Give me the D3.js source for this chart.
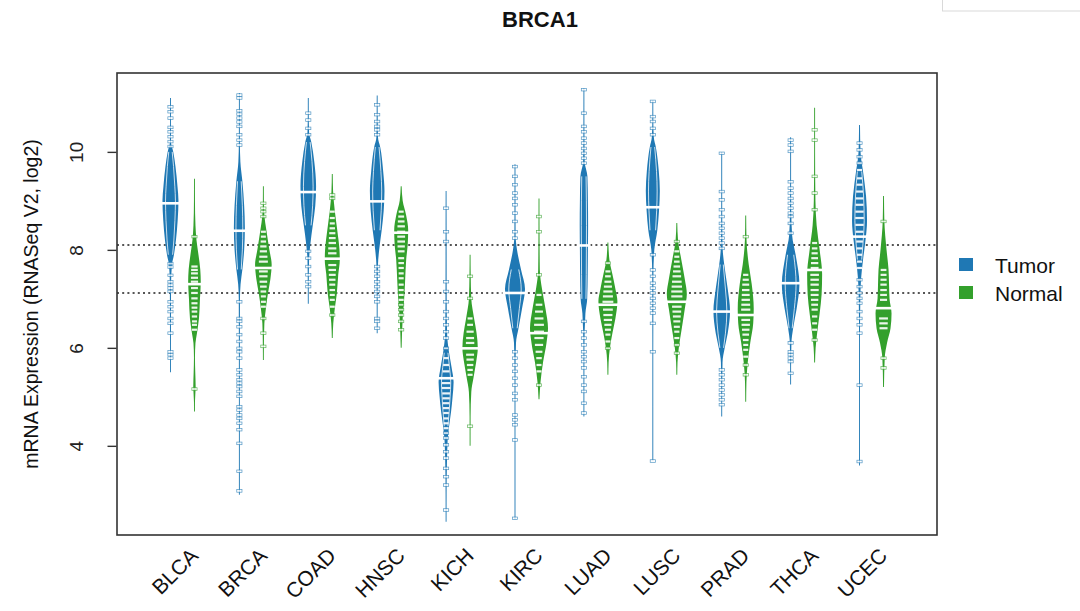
<!DOCTYPE html>
<html>
<head>
<meta charset="utf-8">
<script src="https://cdn.jsdelivr.net/npm/d3@7"></script>
<style>
  html, body { margin: 0; padding: 0; background: #fff; }
  svg { display: block; font-family: "Liberation Sans", Arial, Helvetica, sans-serif; }
</style>
</head>
<body>
<svg id="chart" width="1080" height="611"></svg>
<script>
// ---------------- DATA ----------------
const categories = ["BLCA","BRCA","COAD","HNSC","KICH","KIRC","LUAD","LUSC","PRAD","THCA","UCEC"];
const groups = ["Tumor","Normal"];
const yTicks = [4, 6, 8, 10];
const refLines = [8.1, 7.12];

const tumorMedians  = [8.95, 8.39, 9.18, 8.99, 5.38, 7.12, 8.09, 8.87, 6.74, 7.32, 8.27];
const normalMedians = [7.30, 7.63, 7.82, 8.35, 5.99, 6.30, 6.88, 6.94, 6.67, 7.59, 6.81];

// relative density profiles: [value, relative density]
const tumorDensity = [
  [[11.1,0],[10.9,0.03],[10.2,0.05],[10.0,0.28],[9.7,0.5],[9.3,0.7],[9.0,0.8],[8.6,0.72],[8.2,0.55],[7.9,0.35],[7.7,0.15],[7.3,0.06],[6.5,0.05],[5.8,0.03],[5.5,0]],
  [[11.2,0],[11.0,0.04],[10.2,0.05],[9.8,0.1],[9.4,0.3],[8.9,0.48],[8.45,0.55],[8.0,0.48],[7.6,0.3],[7.3,0.12],[7.0,0.06],[5.0,0.04],[3.0,0]],
  [[11.1,0],[10.8,0.04],[10.4,0.08],[10.2,0.3],[9.8,0.6],[9.3,0.78],[8.9,0.7],[8.5,0.45],[8.1,0.2],[7.8,0.08],[7.3,0.05],[6.9,0]],
  [[11.15,0],[10.8,0.05],[10.3,0.08],[10.1,0.3],[9.6,0.6],[9.2,0.73],[8.8,0.65],[8.4,0.45],[8.0,0.2],[7.7,0.08],[7.0,0.05],[6.3,0]],
  [[9.2,0],[8.5,0.05],[7.0,0.06],[6.3,0.1],[5.9,0.3],[5.6,0.55],[5.3,0.75],[5.0,0.65],[4.7,0.5],[4.4,0.3],[4.1,0.15],[3.6,0.08],[3.0,0.05],[2.45,0]],
  [[9.75,0],[9.0,0.05],[8.3,0.06],[8.0,0.2],[7.6,0.6],[7.2,1.0],[6.8,0.7],[6.4,0.35],[6.1,0.1],[5.5,0.05],[4.1,0.04],[2.5,0]],
  [[11.3,0],[10.5,0.05],[9.8,0.08],[9.5,0.35],[9.0,0.4],[8.5,0.42],[8.0,0.4],[7.5,0.38],[7.0,0.33],[6.7,0.15],[6.0,0.05],[4.6,0]],
  [[11.05,0],[10.6,0.05],[10.3,0.1],[10.1,0.3],[9.6,0.6],[9.2,0.7],[8.8,0.62],[8.4,0.45],[8.0,0.15],[7.5,0.06],[6.5,0.05],[5.9,0.02],[3.7,0]],
  [[10.0,0],[9.2,0.04],[8.4,0.06],[8.0,0.1],[7.7,0.25],[7.2,0.6],[6.75,0.83],[6.3,0.6],[6.0,0.3],[5.7,0.08],[5.0,0.04],[4.6,0]],
  [[10.3,0],[9.5,0.04],[8.8,0.06],[8.3,0.15],[7.9,0.5],[7.3,0.88],[6.8,0.6],[6.4,0.25],[6.1,0.08],[5.6,0.04],[5.25,0]],
  [[10.55,0],[10.0,0.1],[9.6,0.35],[9.1,0.65],[8.6,0.75],[8.2,0.6],[7.8,0.35],[7.4,0.15],[7.0,0.08],[6.2,0.04],[3.6,0]]
];
const normalDensity = [
  [[9.45,0],[9.0,0.05],[8.5,0.1],[8.2,0.2],[7.9,0.4],[7.6,0.58],[7.35,0.63],[7.0,0.55],[6.6,0.45],[6.3,0.25],[6.1,0.1],[5.8,0.05],[5.5,0.08],[5.2,0.12],[4.9,0.05],[4.7,0]],
  [[9.3,0],[9.0,0.05],[8.7,0.1],[8.4,0.3],[8.0,0.6],[7.7,0.83],[7.4,0.7],[7.1,0.45],[6.8,0.25],[6.5,0.1],[6.0,0.05],[5.75,0]],
  [[9.55,0],[9.2,0.08],[8.8,0.25],[8.4,0.5],[8.0,0.72],[7.8,0.75],[7.5,0.6],[7.1,0.45],[6.8,0.25],[6.5,0.1],[6.2,0]],
  [[9.3,0],[9.0,0.15],[8.7,0.5],[8.4,0.7],[8.1,0.65],[7.8,0.5],[7.4,0.4],[7.0,0.3],[6.6,0.15],[6.0,0]],
  [[7.9,0],[7.5,0.06],[7.0,0.12],[6.6,0.4],[6.3,0.65],[6.0,0.77],[5.7,0.6],[5.4,0.35],[5.1,0.12],[4.6,0.05],[4.0,0]],
  [[9.05,0],[8.5,0.05],[7.6,0.08],[7.2,0.3],[6.8,0.65],[6.4,0.9],[6.1,0.75],[5.7,0.4],[5.3,0.15],[4.95,0]],
  [[8.15,0],[7.8,0.15],[7.5,0.45],[7.2,0.75],[6.95,0.95],[6.6,0.75],[6.3,0.45],[6.0,0.2],[5.7,0.07],[5.45,0]],
  [[8.55,0],[8.2,0.12],[7.8,0.45],[7.4,0.8],[7.1,1.0],[6.8,0.8],[6.4,0.5],[6.0,0.2],[5.7,0.07],[5.45,0]],
  [[8.7,0],[8.2,0.08],[7.7,0.3],[7.3,0.6],[6.8,0.8],[6.5,0.75],[6.1,0.45],[5.7,0.2],[5.3,0.07],[4.9,0]],
  [[10.9,0],[10.0,0.04],[9.0,0.08],[8.5,0.2],[8.0,0.5],[7.5,0.75],[7.1,0.7],[6.7,0.5],[6.3,0.25],[6.0,0.1],[5.7,0]],
  [[9.1,0],[8.6,0.08],[8.0,0.3],[7.6,0.5],[7.3,0.55],[7.0,0.6],[6.7,0.8],[6.4,0.7],[6.1,0.35],[5.8,0.12],[5.2,0]]
];

// individual observations visible as bean lines
const tumorPoints = [
  [10.92,10.82,10.69,10.50,10.41,10.31,10.21,10.11,7.72,7.65,7.48,7.35,7.28,7.22,7.15,6.94,6.84,6.74,6.60,6.50,6.30,5.92,5.86,5.79],
  [11.16,11.10,10.84,10.77,10.69,10.61,10.52,10.35,10.24,10.14,6.94,6.60,6.54,6.43,6.27,6.13,5.99,5.92,5.79,5.55,5.45,5.35,5.28,5.21,5.11,5.01,4.80,4.73,4.63,4.56,4.46,4.33,4.05,3.48,3.08],
  [10.79,10.65,10.48,10.35,7.97,7.83,7.66,7.49,7.35,7.25],
  [10.96,10.76,10.62,10.52,10.45,10.35,7.66,7.56,7.46,7.35,7.25,7.15,7.05,6.94,6.60,6.54,6.40],
  [8.85,8.37,8.17,7.35,7.15,6.94,6.74,6.60,6.47,6.33,6.20,5.99,5.79,5.65,5.52,5.28,5.18,5.07,4.97,4.87,4.77,4.67,4.56,4.46,4.36,4.26,4.16,4.02,3.88,3.75,3.54,3.37,3.20,2.69],
  [9.70,9.50,9.33,9.16,9.05,8.92,8.75,8.58,8.37,8.24,5.92,5.79,5.65,5.52,5.38,5.24,5.07,4.94,4.63,4.53,4.43,4.12,2.52],
  [11.27,10.79,10.52,10.41,10.28,10.18,10.07,9.97,9.87,9.77,6.54,6.33,6.20,6.06,5.92,5.82,5.72,5.59,5.41,5.24,5.11,4.87,4.67],
  [11.03,10.72,10.62,10.48,10.35,7.90,7.59,7.46,7.32,7.22,7.12,7.01,6.91,6.81,6.71,6.50,5.92,3.69],
  [9.97,9.19,9.02,8.82,8.68,8.54,8.44,8.34,8.24,8.14,8.03,5.55,5.45,5.35,5.24,5.14,5.04,4.94,4.84],
  [10.24,10.14,10.01,9.39,9.26,9.16,9.05,8.95,8.85,8.75,8.68,8.54,8.34,6.10,5.92,5.86,5.79,5.72,5.48],
  [10.18,10.04,9.90,9.77,9.63,9.46,9.33,9.19,9.05,8.92,8.78,8.65,8.51,8.37,8.17,8.03,7.90,7.76,7.63,7.39,7.25,7.12,7.01,6.91,6.74,6.60,6.47,6.30,5.24,3.68]
];
const normalPoints = [
  [8.27,7.66,7.59,7.52,7.43,7.35,7.22,7.12,7.01,6.91,6.82,6.74,6.64,6.54,6.47,6.37,5.16],
  [8.95,8.85,8.78,8.68,8.37,8.27,8.17,8.07,7.97,7.86,7.76,7.56,7.46,7.35,7.25,7.15,7.05,6.94,6.84,6.60,6.30,6.03],
  [9.12,9.05,8.78,8.65,8.54,8.44,8.34,8.24,8.14,8.03,7.93,7.69,7.59,7.49,7.39,7.29,7.18,7.08,6.98,6.84,6.67],
  [8.78,8.68,8.58,8.48,8.37,8.27,8.17,8.07,7.97,7.83,7.73,7.63,7.52,7.42,7.29,7.18,7.08,6.98,6.88,6.78,6.67,6.54,6.37],
  [7.46,7.01,6.60,6.47,6.33,6.20,6.10,5.86,5.76,5.65,5.55,5.45,4.40],
  [8.68,8.37,7.49,7.08,6.88,6.74,6.60,6.47,6.33,6.20,6.06,5.92,5.79,5.65,5.52,5.24],
  [7.73,7.56,7.46,7.35,7.25,7.15,7.05,6.94,6.78,6.67,6.57,6.47,6.37,6.27,6.13,5.99],
  [8.17,7.97,7.86,7.76,7.66,7.56,7.46,7.35,7.25,7.15,7.05,6.84,6.74,6.64,6.54,6.43,6.33,6.20,6.06,5.89],
  [8.27,7.49,7.39,7.29,7.18,7.08,6.98,6.88,6.78,6.57,6.47,6.37,6.27,6.16,6.06,5.96,5.82,5.65,5.45],
  [10.45,10.24,9.50,9.16,8.82,8.14,8.03,7.93,7.83,7.73,7.63,7.49,7.39,7.29,7.18,7.08,6.98,6.88,6.78,6.64,6.50,6.37,6.16],
  [8.58,7.59,7.49,7.39,7.29,7.18,7.08,6.98,6.60,6.50,6.40,5.79,5.59]
];

// ---------------- DRAWING ----------------
const colors = { Tumor: "#1f78b4", Normal: "#33a02c" };
const svg = d3.select("#chart");
const M = { left: 117, top: 73, right: 937, bottom: 535 };

const y = d3.scaleLinear().domain([2.18, 11.61]).range([M.bottom, M.top]);
const xCat = d3.scalePoint().domain(categories).range([M.left, M.right]).padding(0.95);
const xGrp = d3.scalePoint().domain(groups).range([-12, 12]);
const wScale = d3.scaleLinear().domain([0, 1]).range([0, 10]);

// outer little box at top-right (screenshot artefact)
svg.append("rect").attr("x", 942.5).attr("y", -2).attr("width", 140).attr("height", 13)
  .attr("fill", "none").attr("stroke", "#d9d9d9").attr("stroke-width", 1);

// title
svg.append("text").attr("x", 540).attr("y", 27).attr("text-anchor", "middle")
  .attr("font-size", 22).attr("font-weight", "bold").attr("fill", "#111").text("BRCA1");

// reference dotted lines
svg.selectAll("line.ref").data(refLines).join("line").attr("class", "ref")
  .attr("x1", M.left).attr("x2", M.right)
  .attr("y1", d => y(d)).attr("y2", d => y(d))
  .attr("stroke", "#555").attr("stroke-width", 2).attr("stroke-dasharray", "2,3.2");

function halfWidthAt(dens, v) {
  for (let i = 0; i < dens.length - 1; i++) {
    const a = dens[i], b = dens[i + 1];
    if (v <= a[0] && v >= b[0]) {
      const t = (a[0] - v) / (a[0] - b[0]);
      return wScale(a[1] + t * (b[1] - a[1]));
    }
  }
  return 0;
}

const beans = [];
categories.forEach((c, i) => {
  beans.push({ cat: c, grp: "Tumor", dens: tumorDensity[i], pts: tumorPoints[i], med: tumorMedians[i] });
  beans.push({ cat: c, grp: "Normal", dens: normalDensity[i], pts: normalPoints[i], med: normalMedians[i] });
});

const plot = svg.append("g");
beans.forEach(b => {
  const cx = xCat(b.cat) + xGrp(b.grp);
  const col = colors[b.grp];
  const g = plot.append("g");
  const mkArea = (k, minW) => d3.area()
    .y(d => y(d[0]))
    .x0(d => cx - Math.max(wScale(d[1]) * k, minW))
    .x1(d => cx + Math.max(wScale(d[1]) * k, minW))
    .curve(d3.curveMonotoneY);
  g.append("path").datum(b.dens).attr("d", mkArea(1, 0.45)).attr("fill", col).attr("stroke", "none");

  // inner white contour (dense bean lines), only where the bean is wide enough
  if (b.grp === "Tumor") {
    const core = b.dens.filter(d => d[1] >= 0.25);
    if (core.length > 1) {
      const line = d3.line().curve(d3.curveMonotoneY);
      const left = core.map(d => [cx - wScale(d[1]) * 0.62, y(d[0])]);
      const right = core.map(d => [cx + wScale(d[1]) * 0.62, y(d[0])]);
      g.append("path").attr("d", line(left)).attr("fill", "none").attr("stroke", "#fff")
        .attr("stroke-width", 0.9).attr("opacity", 0.85);
      g.append("path").attr("d", line(right)).attr("fill", "none").attr("stroke", "#fff")
        .attr("stroke-width", 0.9).attr("opacity", 0.85);
    }
  }

  const maxW = d3.max(b.dens, d => wScale(d[1]));
  b.pts.forEach(v => {
    const hw = halfWidthAt(b.dens, v);
    if (hw > 2.6) {
      const w = Math.max(hw * 1.15, 5);
      g.append("rect").attr("x", cx - w / 2).attr("y", y(v) - 1.1)
        .attr("width", w).attr("height", 2.2).attr("fill", "#fff").attr("opacity", 0.9);
    } else {
      g.append("rect").attr("x", cx - 2.6).attr("y", y(v) - 1.3)
        .attr("width", 5.2).attr("height", 2.6).attr("fill", "#fff")
        .attr("stroke", col).attr("stroke-width", 0.7).attr("opacity", 0.75);
    }
  });
  const ml = maxW * 2 + 5;
  g.append("line").attr("x1", cx - ml / 2).attr("x2", cx + ml / 2)
    .attr("y1", y(b.med)).attr("y2", y(b.med))
    .attr("stroke", "#fff").attr("stroke-width", 2.6);
});

// frame
svg.append("rect").attr("x", M.left).attr("y", M.top)
  .attr("width", M.right - M.left).attr("height", M.bottom - M.top)
  .attr("fill", "none").attr("stroke", "#333").attr("stroke-width", 1.6);

// y axis
const yAxis = d3.axisLeft(y).tickValues(yTicks).tickSize(9).tickPadding(6).tickFormat(d3.format("d"));
const ya = svg.append("g").attr("transform", `translate(${M.left - 0.5},0)`).call(yAxis);
ya.select(".domain").remove();
ya.selectAll(".tick line").attr("stroke", "#333").attr("stroke-width", 1.4);
ya.selectAll(".tick text")
  .attr("font-size", 19).attr("fill", "#222")
  .attr("font-family", "Liberation Sans, Arial, sans-serif")
  .attr("text-anchor", "middle")
  .attr("transform", "translate(-40,0) rotate(-90)")
  .attr("x", 0).attr("dy", "0.35em");

// y label
svg.append("text").attr("transform", `translate(38,${(M.top + M.bottom) / 2}) rotate(-90)`)
  .attr("text-anchor", "middle").attr("font-size", 19.5).attr("fill", "#111")
  .text("mRNA Expression (RNASeq V2, log2)");

// x labels
svg.selectAll("text.xl").data(categories).join("text").attr("class", "xl")
  .attr("transform", d => `translate(${xCat(d) + 17},557) rotate(-45)`)
  .attr("text-anchor", "end").attr("font-size", 21).attr("fill", "#111").text(d => d);

// legend
const lg = svg.append("g");
groups.forEach((gname, i) => {
  lg.append("rect").attr("x", 959).attr("y", 258 + i * 28).attr("width", 14).attr("height", 13)
    .attr("fill", colors[gname]);
  lg.append("text").attr("x", 995).attr("y", 273 + i * 28).attr("font-size", 21)
    .attr("fill", "#111").text(gname);
});
</script>
</body>
</html>
